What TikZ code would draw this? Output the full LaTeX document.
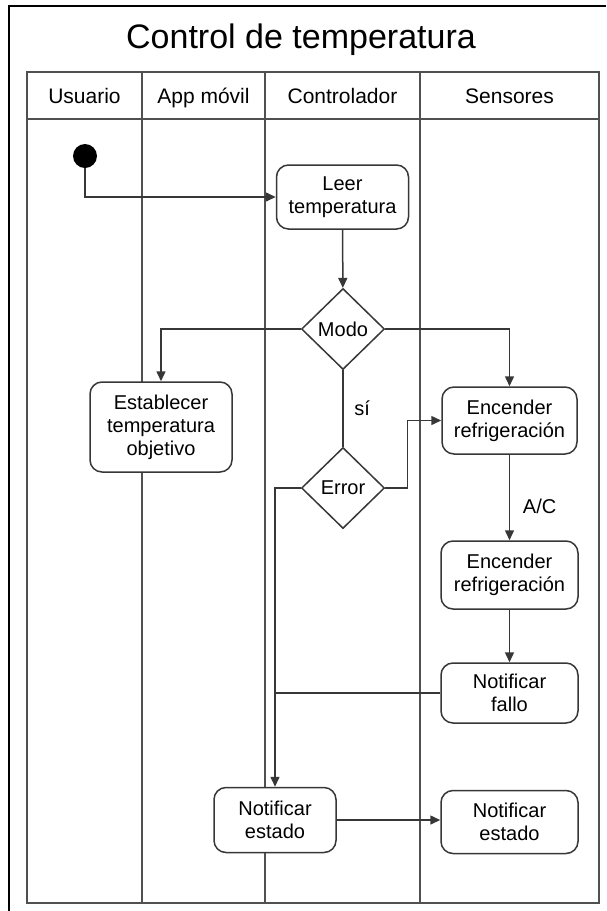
\documentclass[tikz,border=0pt]{standalone}
\usepackage{fontspec}
\setmainfont{Liberation Sans}
\usetikzlibrary{arrows.meta,shapes.geometric}
\definecolor{trazo}{RGB}{55,55,55}
\definecolor{carril}{RGB}{80,80,80}

\begin{document}
\begin{tikzpicture}[x=0.5pt,y=-0.5pt,
  caja/.style={draw=trazo,fill=white,line width=0.75pt,rounded corners=6pt,align=center,inner sep=0pt,
    font=\fontsize{10}{11.5}\selectfont},
  rombo/.style={draw=trazo,fill=white,line width=0.75pt,diamond,aspect=1,inner sep=0pt,
    minimum width=41.5pt,minimum height=40.5pt,font=\fontsize{10}{11.5}\selectfont},
  cabecera/.style={anchor=base,font=\fontsize{10.5}{12}\selectfont},
  flecha/.style={draw=trazo,line width=0.75pt,-{Triangle[length=5pt,width=4.5pt]}},
  linea/.style={draw=trazo,line width=0.75pt}]

\useasboundingbox (0,0) rectangle (606,911);

\draw[line width=1.25pt] (9,911)--(9,6)--(606,6) ;

\node[font=\fontsize{17}{20}\selectfont] (titulo) at (301,40) {Control de temperatura};

\draw[carril,line width=0.8pt] (27,72) rectangle (599,903) ;
\draw[carril,line width=0.8pt] (27,119)--(599,119) ;
\draw[carril,line width=0.8pt] (142,72)--(142,903) ;
\draw[carril,line width=0.8pt] (265,72)--(265,903) ;
\draw[carril,line width=0.8pt] (420,72)--(420,903) ;

\node[cabecera] (usuario) at (84.5,103) {Usuario};
\node[cabecera] (app) at (203.5,103) {App móvil};
\node[cabecera] (controlador) at (342.5,103) {Controlador};
\node[cabecera] (sensores) at (509.5,103) {Sensores};

\node[circle,fill=black,minimum size=12pt,inner sep=0pt] (inicio) at (85,156) {};
\node[caja,minimum width=66pt,minimum height=32pt] (leer) at (342.5,197) {Leer\\temperatura};
\node[rombo] (modo) at (343,329) {Modo};
\node[caja,minimum width=71pt,minimum height=45pt] (fijar) at (161,427) {Establecer\\temperatura\\objetivo};
\node[caja,minimum width=67.5pt,minimum height=33.5pt] (enc1) at (509.5,420.5) {Encender\\refrigeración};
\node[rombo] (error) at (343,488) {Error};
\node[caja,minimum width=68.5pt,minimum height=34pt] (enc2) at (509.5,575) {Encender\\refrigeración};
\node[caja,minimum width=68.5pt,minimum height=30pt] (fallo) at (509.5,693) {Notificar\\fallo};
\node[caja,minimum width=61pt,minimum height=32.5pt] (estadoC) at (275,820) {Notificar\\estado};
\node[caja,minimum width=68.5pt,minimum height=31.5pt] (estadoS) at (509.5,822) {Notificar\\estado};

\draw[flecha] (inicio) |- (leer.west) ;
\draw[flecha] (leer) -- (modo) ;
\draw[flecha] (modo.west) -| (fijar.north) ;
\draw[flecha] (modo.east) -| (enc1.north) ;
\draw[linea] (modo) -- (error) node[midway,right=2pt,font=\fontsize{10}{11.5}\selectfont] {sí} ;
\draw[flecha] (error.east) -- ++(22,0) |- (enc1.west) ;
\draw[flecha] (error.west) -| (estadoC.north) ;
\draw[flecha] (enc1) -- (enc2) node[pos=0.6,right=3pt,font=\fontsize{10}{11.5}\selectfont] {A/C} ;
\draw[flecha] (enc2) -- (fallo) ;
\draw[linea] (fallo.west) -- (fallo.west -| estadoC.north) ;
\draw[flecha] (estadoC.east) -- (estadoC.east -| estadoS.west) ;
\end{tikzpicture}
\end{document}
